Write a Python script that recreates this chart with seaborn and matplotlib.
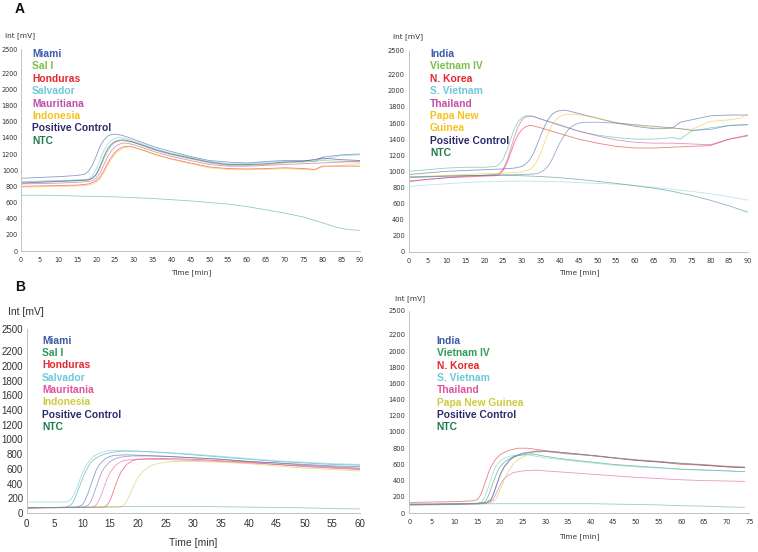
import matplotlib
matplotlib.use("Agg")
import matplotlib.pyplot as plt
import seaborn as sns

# ---- panel A, left (0-90 min) ----
A1_MIAMI_T = [0, 5, 10, 15, 17, 18, 19, 20, 21, 22, 23, 24, 25, 26, 27, 28, 30, 33, 36, 40, 45, 50, 55, 60, 63, 66, 70, 75, 78, 80, 85, 90]
A1_MIAMI_V = [900, 910, 920, 935, 950, 990, 1060, 1170, 1290, 1370, 1420, 1440, 1445, 1440, 1430, 1415, 1380, 1330, 1280, 1230, 1170, 1120, 1100, 1090, 1100, 1110, 1120, 1120, 1110, 1160, 1190, 1200]
A1_T = [0, 5, 10, 15, 18, 19, 20, 21, 22, 23, 24, 25, 26, 27, 28, 30, 33, 36, 40, 45, 50, 55, 60, 65, 70, 75, 80, 85, 90]
A1_SALVADOR_V = [850, 860, 870, 880, 890, 930, 1010, 1120, 1240, 1320, 1370, 1395, 1405, 1400, 1390, 1360, 1310, 1260, 1210, 1160, 1110, 1080, 1080, 1100, 1110, 1120, 1130, 1180, 1190]
A1_POSCTRL_V = [840, 850, 860, 870, 880, 900, 950, 1040, 1160, 1260, 1320, 1355, 1370, 1375, 1370, 1345, 1300, 1250, 1200, 1150, 1100, 1070, 1070, 1080, 1100, 1110, 1150, 1130, 1120]
A1_SALI_V = [860, 865, 870, 875, 880, 900, 940, 1020, 1130, 1230, 1300, 1340, 1360, 1365, 1360, 1340, 1290, 1240, 1190, 1140, 1090, 1060, 1060, 1070, 1090, 1100, 1120, 1110, 1100]
A1_MAURIT_V = [830, 835, 840, 850, 860, 870, 900, 960, 1060, 1160, 1240, 1290, 1320, 1335, 1335, 1315, 1270, 1220, 1170, 1120, 1070, 1050, 1050, 1060, 1070, 1080, 1090, 1100, 1110]
A1_T2 = [0, 5, 10, 15, 18, 19, 20, 21, 22, 23, 24, 25, 26, 27, 28, 29, 30, 33, 36, 40, 45, 50, 55, 60, 65, 70, 75, 78, 80, 85, 90]
A1_HONDURAS_V = [800, 805, 810, 815, 830, 845, 870, 910, 990, 1080, 1160, 1220, 1260, 1285, 1295, 1295, 1285, 1240, 1190, 1140, 1090, 1040, 1020, 1015, 1020, 1030, 1020, 1010, 1050, 1050, 1050]
A1_INDONESIA_V = [790, 795, 800, 805, 815, 825, 850, 890, 960, 1050, 1130, 1200, 1240, 1270, 1285, 1290, 1280, 1235, 1185, 1135, 1080, 1030, 1010, 1005, 1010, 1020, 1010, 1000, 1040, 1060, 1080]
A1_NTC_T = [0, 5, 10, 15, 20, 25, 30, 35, 40, 45, 50, 55, 60, 65, 70, 75, 80, 84, 87, 90]
A1_NTC_V = [690, 690, 688, 680, 675, 670, 660, 650, 635, 620, 600, 580, 550, 510, 470, 420, 350, 290, 265, 255]

# ---- panel A, right (0-90 min) ----
A2_INDIA_T = [0, 5, 10, 15, 20, 25, 28, 30, 31, 32, 33, 34, 35, 36, 37, 38, 39, 40, 41, 42, 45, 50, 55, 60, 65, 68, 70, 72, 75, 78, 80, 85, 90]
A2_INDIA_V = [960, 980, 1000, 1010, 1020, 1030, 1040, 1060, 1090, 1140, 1220, 1330, 1450, 1560, 1650, 1710, 1740, 1755, 1760, 1755, 1720, 1660, 1600, 1560, 1530, 1530, 1540, 1610, 1640, 1670, 1690, 1700, 1700]
A2_PNG_T = [0, 5, 10, 15, 20, 25, 30, 32, 33, 34, 35, 36, 37, 38, 39, 40, 41, 42, 43, 45, 50, 55, 60, 65, 70, 75, 78, 80, 85, 88, 90]
A2_PNG_V = [930, 940, 950, 960, 970, 975, 990, 1020, 1060, 1130, 1230, 1360, 1480, 1580, 1640, 1680, 1700, 1710, 1710, 1705, 1660, 1610, 1570, 1540, 1540, 1520, 1580, 1620, 1640, 1660, 1710]
A2_POSCTRL_T = [0, 5, 10, 15, 20, 25, 30, 34, 35, 36, 37, 38, 39, 40, 41, 42, 43, 44, 45, 46, 47, 50, 55, 60, 65, 70, 75, 80, 85, 90]
A2_POSCTRL_V = [920, 930, 940, 945, 950, 955, 960, 970, 990, 1020, 1070, 1150, 1250, 1350, 1430, 1500, 1550, 1580, 1600, 1605, 1610, 1610, 1600, 1580, 1560, 1540, 1510, 1520, 1570, 1580]
A2_SVIET_T = [0, 5, 10, 15, 20, 23, 24, 25, 26, 27, 28, 29, 30, 31, 32, 33, 35, 40, 45, 50, 55, 60, 65, 70, 72, 75, 80, 85, 90]
A2_SVIET_V = [1000, 1020, 1040, 1050, 1050, 1060, 1090, 1150, 1260, 1400, 1530, 1620, 1670, 1690, 1690, 1685, 1650, 1570, 1500, 1450, 1420, 1400, 1400, 1420, 1400, 1500, 1540, 1570, 1580]
A2_T = [0, 5, 10, 15, 20, 23, 24, 25, 26, 27, 28, 29, 30, 31, 32, 33, 35, 40, 45, 50, 55, 60, 65, 70, 75, 80, 85, 90]
A2_THAI_V = [870, 900, 920, 940, 950, 960, 980, 1030, 1130, 1280, 1430, 1560, 1640, 1675, 1685, 1680, 1650, 1580, 1500, 1440, 1390, 1360, 1350, 1350, 1340, 1330, 1400, 1440]
A2_NKOREA_V = [880, 900, 920, 930, 940, 945, 960, 1010, 1100, 1230, 1360, 1460, 1520, 1555, 1570, 1565, 1540, 1470, 1400, 1350, 1310, 1290, 1290, 1300, 1310, 1320, 1400, 1450]
A2_FLAT_T = [0, 5, 10, 15, 20, 25, 30, 35, 40, 45, 50, 55, 60, 65, 70, 75, 80, 85, 90]
A2_VIET4_V = [810, 830, 845, 860, 870, 875, 878, 875, 870, 860, 850, 840, 825, 800, 775, 750, 720, 685, 640]
A2_NTC_V = [930, 935, 940, 945, 950, 950, 945, 935, 920, 900, 875, 850, 820, 790, 750, 700, 640, 570, 490]

# ---- panel B, left (0-60 min) ----
B1_SALVADOR_T = [0, 2, 5, 7, 7.5, 8, 8.5, 9, 9.5, 10, 10.5, 11, 11.5, 12, 13, 14, 15, 17, 20, 25, 30, 35, 40, 45, 50, 55, 60]
B1_SALVADOR_V = [150, 150, 150, 150, 160, 190, 250, 340, 440, 540, 620, 680, 730, 770, 810, 835, 850, 850, 840, 820, 800, 770, 740, 710, 690, 670, 660]
B1_SALI_T = [0, 5, 7, 8, 8.5, 9, 9.5, 10, 10.5, 11, 11.5, 12, 13, 14, 15, 17, 20, 25, 30, 35, 40, 45, 50, 55, 60]
B1_SALI_V = [70, 75, 80, 110, 170, 260, 360, 460, 550, 620, 680, 720, 770, 800, 820, 840, 840, 820, 790, 760, 730, 700, 680, 660, 650]
B1_MIAMI_T = [0, 5, 9, 10, 10.5, 11, 11.5, 12, 12.5, 13, 14, 15, 16, 18, 20, 25, 30, 35, 40, 45, 50, 55, 60]
B1_MIAMI_V = [70, 75, 80, 110, 170, 260, 370, 480, 580, 650, 730, 770, 785, 790, 785, 770, 750, 730, 700, 680, 660, 640, 630]
B1_POSCTRL_T = [0, 5, 10, 11, 11.5, 12, 12.5, 13, 13.5, 14, 15, 16, 17, 19, 22, 25, 30, 35, 40, 45, 50, 55, 60]
B1_POSCTRL_V = [70, 75, 80, 100, 150, 240, 350, 460, 550, 620, 700, 740, 760, 775, 775, 770, 750, 730, 700, 680, 650, 630, 610]
B1_MAURIT_T = [0, 5, 10, 12, 12.5, 13, 13.5, 14, 14.5, 15, 16, 17, 18, 20, 22, 25, 30, 35, 40, 45, 50, 55, 60]
B1_MAURIT_V = [70, 72, 75, 80, 110, 170, 260, 370, 470, 550, 650, 700, 720, 730, 730, 725, 715, 700, 680, 660, 640, 620, 600]
B1_HONDURAS_T = [0, 5, 10, 14, 14.5, 15, 15.5, 16, 16.5, 17, 18, 19, 20, 22, 25, 30, 35, 40, 45, 50, 55, 60]
B1_HONDURAS_V = [70, 72, 75, 80, 110, 170, 270, 380, 480, 560, 660, 710, 730, 740, 740, 730, 710, 690, 660, 630, 610, 590]
B1_INDONESIA_T = [0, 5, 10, 15, 17, 17.5, 18, 18.5, 19, 19.5, 20, 21, 22, 23, 25, 27, 30, 35, 40, 45, 50, 55, 60]
B1_INDONESIA_V = [70, 72, 75, 78, 80, 110, 160, 240, 330, 410, 480, 570, 630, 660, 690, 700, 700, 690, 670, 640, 610, 590, 570]
B1_NTC_T = [0, 5, 10, 15, 20, 25, 30, 35, 40, 45, 50, 55, 60]
B1_NTC_V = [70, 75, 80, 85, 90, 90, 90, 85, 80, 75, 70, 60, 55]

# ---- panel B, right (0-75 min) ----
B2_NKOREA_T = [0, 5, 10, 14, 15, 15.5, 16, 16.5, 17, 17.5, 18, 19, 20, 21, 22, 24, 26, 30, 35, 40, 45, 50, 55, 60, 65, 70, 74]
B2_NKOREA_V = [130, 135, 140, 150, 165, 200, 260, 340, 420, 500, 570, 660, 720, 750, 775, 800, 800, 770, 740, 710, 680, 650, 630, 600, 590, 570, 560]
B2_SVIET_T = [0, 5, 10, 15, 16, 16.5, 17, 17.5, 18, 18.5, 19, 20, 21, 22, 24, 26, 30, 35, 40, 45, 50, 55, 60, 65, 70, 74]
B2_SVIET_V = [100, 105, 110, 120, 140, 180, 250, 330, 420, 500, 570, 640, 680, 700, 715, 720, 680, 650, 620, 590, 570, 555, 540, 530, 520, 510]
B2_VIET4_T = [0, 5, 10, 15, 16.5, 17, 17.5, 18, 18.5, 19, 19.5, 20, 21, 22, 24, 27, 30, 35, 40, 45, 50, 55, 60, 65, 70, 74]
B2_VIET4_V = [110, 110, 115, 120, 130, 160, 220, 300, 380, 450, 520, 570, 630, 670, 710, 730, 700, 660, 630, 600, 580, 560, 540, 530, 520, 510]
B2_T = [0, 5, 10, 15, 17, 18, 18.5, 19, 19.5, 20, 20.5, 21, 22, 23, 25, 28, 30, 35, 40, 45, 50, 55, 60, 65, 70, 74]
B2_INDIA_V = [100, 105, 110, 115, 125, 160, 220, 300, 380, 460, 520, 570, 640, 690, 730, 760, 760, 730, 710, 680, 650, 630, 610, 590, 570, 560]
B2_POSCTRL_V = [105, 108, 112, 118, 130, 170, 230, 310, 390, 470, 530, 580, 650, 700, 740, 765, 765, 740, 715, 685, 655, 635, 615, 595, 575, 565]
B2_THAI_V = [100, 100, 105, 110, 120, 140, 170, 220, 280, 340, 390, 430, 470, 500, 520, 530, 520, 500, 480, 460, 440, 425, 410, 400, 395, 390]
B2_PNG_T = [0, 5, 10, 15, 18, 19, 19.5, 20, 20.5, 21, 21.5, 22, 23, 24, 26, 28, 30, 35, 40, 45, 50, 55, 60, 65, 70, 74]
B2_PNG_V = [110, 110, 115, 120, 130, 160, 210, 280, 350, 420, 480, 530, 610, 660, 720, 750, 760, 740, 710, 680, 660, 640, 610, 600, 580, 570]
B2_NTC_T = [0, 10, 20, 30, 40, 45, 50, 55, 60, 65, 70, 74]
B2_NTC_V = [110, 110, 115, 115, 115, 110, 105, 100, 90, 85, 75, 70]

A1_LABELS = ["Miami", "Sal I", "Honduras", "Salvador", "Mauritiana", "Indonesia", "Positive Control", "NTC"]
A2_LABELS = ["India", "Vietnam IV", "N. Korea", "S. Vietnam", "Thailand", "Papa New", "Guinea", "Positive Control", "NTC"]
B1_LABELS = ["Miami", "Sal I", "Honduras", "Salvador", "Mauritania", "Indonesia", "Positive Control", "NTC"]
B2_LABELS = ["India", "Vietnam IV", "N. Korea", "S. Vietnam", "Thailand", "Papa New Guinea", "Positive Control", "NTC"]

BLUE = "#3d5aa8"
LGREEN = "#7cc04a"
DGREEN = "#2e9a57"
RED = "#e5282d"
CYAN = "#6cc9dd"
MAGENTA = "#c04fa6"
PINK = "#e0529c"
YELLOW = "#f6c31c"
OLIVE = "#cccc3c"
NAVY = "#2b2a6c"
NTCG = "#1f7a4c"

A1_COLORS = [BLUE, LGREEN, RED, CYAN, MAGENTA, YELLOW, NAVY, NTCG]
A2_COLORS = [BLUE, LGREEN, RED, CYAN, MAGENTA, YELLOW, YELLOW, NAVY, NTCG]
B1_COLORS = [BLUE, DGREEN, RED, CYAN, PINK, OLIVE, NAVY, NTCG]
B2_COLORS = [BLUE, DGREEN, RED, CYAN, PINK, OLIVE, NAVY, NTCG]

W, H = 758, 552
sns.set_theme(style="white")
plt.rcParams["font.family"] = ["DejaVu Sans"]
fig = plt.figure(figsize=(W / 100, H / 100), dpi=100)


def make_axes(x0, x1, y0, y1):
    # pixel box -> figure fraction
    return fig.add_axes([x0 / W, 1 - y0 / H, (x1 - x0) / W, (y0 - y1) / H])


def style_axes(ax, xmax, font, size, ypad):
    ax.set_xlim(0, xmax)
    ax.set_ylim(0, 2500)
    ax.set_xticks(range(0, xmax + 1, 5))
    ax.set_yticks(list(range(0, 2201, 200)) + [2500])
    for side in ["top", "right"]:
        ax.spines[side].set_visible(False)
    for side in ["left", "bottom"]:
        ax.spines[side].set_color("#c2c2c2")
        ax.spines[side].set_linewidth(0.7)
    ax.tick_params(axis="x", length=2, width=0.6, color="#c2c2c2", pad=2.5,
                   labelsize=size, labelcolor="#333333")
    ax.tick_params(axis="y", length=1.5, width=0.6, color="#c2c2c2", pad=ypad,
                   labelsize=size, labelcolor="#333333")
    for lab in ax.get_xticklabels() + ax.get_yticklabels():
        lab.set_family(font)
    ax.set_xlabel("")
    ax.set_ylabel("")
    ax.grid(False)


def draw(ax, series):
    for t, v, c in series:
        sns.lineplot(x=t, y=v, ax=ax, color=c, lw=0.6, alpha=0.6, legend=False)


def legend(x, y, labels, colors, step):
    for i, (lab, c) in enumerate(zip(labels, colors)):
        fig.text(x / W, 1 - (y + i * step) / H, lab, color=c, fontsize=7.4,
                 fontweight="bold", family="Liberation Sans", va="center", ha="left")


# panel A left
ax1 = make_axes(20.7, 360, 251, 49)
draw(ax1, [
    (A1_MIAMI_T, A1_MIAMI_V, BLUE), (A1_T, A1_SALI_V, LGREEN),
    (A1_T2, A1_HONDURAS_V, RED), (A1_T, A1_SALVADOR_V, CYAN),
    (A1_T, A1_MAURIT_V, MAGENTA), (A1_T2, A1_INDONESIA_V, YELLOW),
    (A1_T, A1_POSCTRL_V, NAVY), (A1_NTC_T, A1_NTC_V, "#4aa7a8"),
])
style_axes(ax1, 90, "DejaVu Sans", 4.7, 0.5)

# panel A right
ax2 = make_axes(409, 748, 251.7, 50.7)
draw(ax2, [
    (A2_INDIA_T, A2_INDIA_V, BLUE), (A2_FLAT_T, A2_VIET4_V, "#8fd3e0"),
    (A2_T, A2_NKOREA_V, RED), (A2_SVIET_T, A2_SVIET_V, "#49b58e"),
    (A2_T, A2_THAI_V, MAGENTA), (A2_PNG_T, A2_PNG_V, YELLOW),
    (A2_POSCTRL_T, A2_POSCTRL_V, "#5a6fb8"), (A2_FLAT_T, A2_NTC_V, "#3a8f87"),
])
style_axes(ax2, 90, "DejaVu Sans", 4.8, 1.5)

# panel B left
ax3 = make_axes(26.7, 360, 513, 329)
draw(ax3, [
    (B1_MIAMI_T, B1_MIAMI_V, BLUE), (B1_SALI_T, B1_SALI_V, "#3f9e8a"),
    (B1_HONDURAS_T, B1_HONDURAS_V, RED), (B1_SALVADOR_T, B1_SALVADOR_V, CYAN),
    (B1_MAURIT_T, B1_MAURIT_V, PINK), (B1_INDONESIA_T, B1_INDONESIA_V, OLIVE),
    (B1_POSCTRL_T, B1_POSCTRL_V, "#6a66b0"), (B1_NTC_T, B1_NTC_V, "#5aa89a"),
])
style_axes(ax3, 60, "Liberation Sans", 7, 1)

# panel B right
ax4 = make_axes(409.3, 749.3, 513, 310.5)
draw(ax4, [
    (B2_T, B2_INDIA_V, BLUE), (B2_VIET4_T, B2_VIET4_V, DGREEN),
    (B2_NKOREA_T, B2_NKOREA_V, RED), (B2_SVIET_T, B2_SVIET_V, CYAN),
    (B2_T, B2_THAI_V, PINK), (B2_PNG_T, B2_PNG_V, OLIVE),
    (B2_T, B2_POSCTRL_V, "#6a66b0"), (B2_NTC_T, B2_NTC_V, "#5aa89a"),
])
style_axes(ax4, 75, "DejaVu Sans", 4.8, 1.5)

# legends as coloured text
legend(32, 54, A1_LABELS, A1_COLORS, 12.4)
legend(430, 54, A2_LABELS, A2_COLORS, 12.4)
legend(42, 340.7, B1_LABELS, B1_COLORS, 12.35)
legend(436.7, 341, B2_LABELS, B2_COLORS, 12.35)

# axis captions
small = dict(fontsize=5.3, color="#333333", family="DejaVu Sans", va="center")
fig.text(5 / W, 1 - 36 / H, "Int [mV]", ha="left", **small)
fig.text(393 / W, 1 - 37 / H, "Int [mV]", ha="left", **small)
fig.text(395 / W, 1 - 299 / H, "Int [mV]", ha="left", **small)
fig.text(191 / W, 1 - 272.5 / H, "Time [min]", ha="center", **small)
fig.text(579 / W, 1 - 273 / H, "Time [min]", ha="center", **small)
fig.text(579 / W, 1 - 537 / H, "Time [min]", ha="center", **small)
big = dict(fontsize=7.5, color="#333333", family="Liberation Sans", va="center")
fig.text(8 / W, 1 - 312 / H, "Int [mV]", ha="left", **big)
fig.text(193 / W, 1 - 543 / H, "Time [min]", ha="center", **big)

fig.text(15 / W, 1 - 9 / H, "A", fontsize=10, fontweight="bold", family="Liberation Sans",
         va="center", ha="left", color="#111111")
fig.text(15 / W, 1 - 287 / H, "B", fontsize=10, fontweight="bold", family="Liberation Sans",
         va="center", ha="left", color="#111111")

fig.savefig("out.png", dpi=100)
